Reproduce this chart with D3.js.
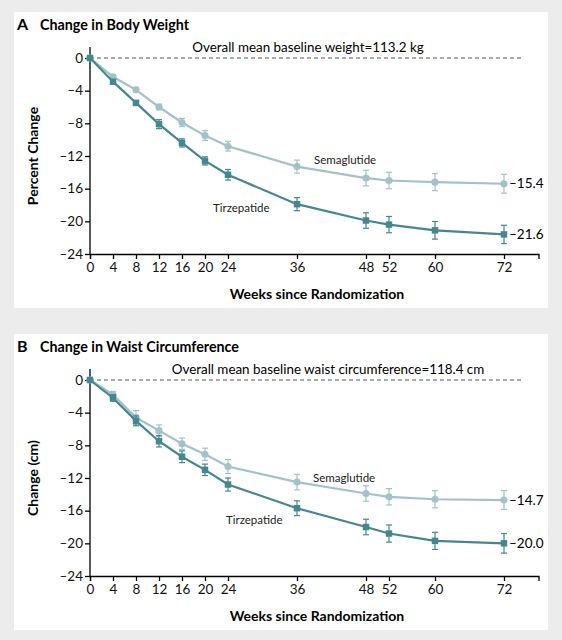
<!DOCTYPE html>
<html>
<head>
<meta charset="utf-8">
<script src="https://cdn.jsdelivr.net/npm/d3@7"></script>
<style>
  body { margin: 0; background: #ececec; }
  svg { display: block; font-family: Lato, "Open Sans", sans-serif; }
</style>
</head>
<body>
<script>
// weeks shared by both panels
const weeks = [0, 4, 8, 12, 16, 20, 24, 36, 48, 52, 60, 72];
const yTicks = [0, -4, -8, -12, -16, -20, -24];

// Panel A: percent change in body weight
const weightSema = [0, -2.3, -3.9, -6.0, -7.9, -9.5, -10.8, -13.3, -14.7, -15.0, -15.2, -15.4];
const weightSemaErr = [0, 0.25, 0.3, 0.35, 0.5, 0.6, 0.6, 0.8, 0.95, 1.0, 1.05, 1.15];
const weightTirz = [0, -2.9, -5.5, -8.1, -10.4, -12.6, -14.3, -17.9, -19.9, -20.4, -21.1, -21.6];
const weightTirzErr = [0, 0.25, 0.3, 0.55, 0.5, 0.5, 0.65, 0.8, 0.95, 1.0, 1.08, 1.12];

// Panel B: change in waist circumference (cm)
const waistSema = [0, -1.8, -4.6, -6.2, -7.8, -9.1, -10.6, -12.5, -13.9, -14.3, -14.6, -14.7];
const waistSemaErr = [0, 0.4, 0.85, 0.7, 0.7, 0.75, 0.85, 0.95, 0.95, 1.0, 1.05, 1.15];
const waistTirz = [0, -2.2, -5.0, -7.5, -9.4, -11.0, -12.8, -15.7, -18.0, -18.8, -19.7, -20.0];
const waistTirzErr = [0, 0.4, 0.6, 0.7, 0.72, 0.7, 0.8, 0.9, 0.95, 1.05, 1.05, 1.2];

const semaColor = "#a3c2c8";
const tirzColor = "#45878f";

const dash = (d) => (d < 0 ? "\u2013" + Math.abs(d) : String(d));

const svg = d3.select("body").append("svg")
  .attr("width", 562)
  .attr("height", 640);

const drawPanel = (opt) => {
  const top = opt.top;
  svg.append("rect")
    .attr("x", 14).attr("y", top)
    .attr("width", 534).attr("height", 296)
    .attr("fill", "#fff");

  const g = svg.append("g");

  g.append("text")
    .attr("x", 17).attr("y", top + 18)
    .attr("font-size", 16).attr("font-weight", "bold")
    .text(opt.letter);
  g.append("text")
    .attr("x", 40).attr("y", top + 18)
    .attr("font-size", 15).attr("font-weight", "bold")
    .attr("textLength", opt.titleLen)
    .attr("lengthAdjust", "spacingAndGlyphs")
    .text(opt.title);

  const x = d3.scaleLinear().domain([0, 78]).range([90, 538.5]);
  const y = d3.scaleLinear().domain([-24, 0]).range([top + 242, top + 46]);

  // dashed baseline
  g.append("line")
    .attr("x1", x(0)).attr("x2", 523)
    .attr("y1", y(0)).attr("y2", y(0))
    .attr("stroke", "#555").attr("stroke-width", 1)
    .attr("stroke-dasharray", "4,3");
  g.append("text")
    .attr("x", opt.noteX).attr("y", y(0) - 6)
    .attr("text-anchor", "middle")
    .attr("font-size", 13.4)
    .text(opt.note);

  // axes
  const xAxis = g.append("g")
    .attr("transform", "translate(0," + y(-24) + ")")
    .call(d3.axisBottom(x).tickValues(weeks).tickSizeOuter(0).tickSize(5).tickPadding(3));
  const yAxis = g.append("g")
    .attr("transform", "translate(" + x(0) + ",0)")
    .call(d3.axisLeft(y).tickValues(yTicks).tickFormat(dash).tickSizeOuter(0).tickSize(5).tickPadding(2));
  yAxis.select(".domain").remove();
  yAxis.append("line")
    .attr("y1", y(0) - 11).attr("y2", y(-24))
    .attr("stroke", "#000").attr("stroke-width", 1.3);
  [xAxis, yAxis].forEach((a) => {
    a.selectAll("text").attr("font-size", 13.5).attr("fill", "#111")
      .attr("font-family", "Lato, sans-serif");
    a.selectAll(".domain, line").attr("stroke-width", 1.3);
  });

  g.append("text")
    .attr("x", 317).attr("y", y(-24) + 45)
    .attr("text-anchor", "middle")
    .attr("font-size", 14).attr("font-weight", "bold")
    .text("Weeks since Randomization");
  g.append("text")
    .attr("transform", "translate(38," + (y(-12)) + ") rotate(-90)")
    .attr("text-anchor", "middle")
    .attr("font-size", 14).attr("font-weight", "bold")
    .text(opt.yLabel);

  const line = d3.line().x((d) => x(d.w)).y((d) => y(d.v));

  const series = [
    { vals: opt.sema, err: opt.semaErr, color: semaColor, shape: "circle" },
    { vals: opt.tirz, err: opt.tirzErr, color: tirzColor, shape: "square" }
  ];

  series.forEach((s) => {
    const pts = weeks.map((w, i) => ({ w: w, v: s.vals[i], e: s.err[i] }));
    const sg = g.append("g");
    sg.append("path")
      .datum(pts)
      .attr("fill", "none")
      .attr("stroke", s.color)
      .attr("stroke-width", 2.2)
      .attr("d", line);

    const bars = sg.selectAll(".err")
      .data(pts.filter((d) => d.e > 0))
      .enter().append("g")
      .attr("stroke", s.color)
      .attr("stroke-width", 1.2);
    bars.append("line")
      .attr("x1", (d) => x(d.w)).attr("x2", (d) => x(d.w))
      .attr("y1", (d) => y(d.v + d.e)).attr("y2", (d) => y(d.v - d.e));
    bars.append("line")
      .attr("x1", (d) => x(d.w) - 3).attr("x2", (d) => x(d.w) + 3)
      .attr("y1", (d) => y(d.v + d.e)).attr("y2", (d) => y(d.v + d.e));
    bars.append("line")
      .attr("x1", (d) => x(d.w) - 3).attr("x2", (d) => x(d.w) + 3)
      .attr("y1", (d) => y(d.v - d.e)).attr("y2", (d) => y(d.v - d.e));

    const sym = d3.symbol()
      .type(s.shape === "circle" ? d3.symbolCircle : d3.symbolSquare)
      .size(s.shape === "circle" ? 40 : 42);
    sg.selectAll(".pt")
      .data(pts)
      .enter().append("path")
      .attr("transform", (d) => "translate(" + x(d.w) + "," + y(d.v) + ")")
      .attr("d", sym)
      .attr("fill", s.color);

    const last = pts[pts.length - 1];
    g.append("text")
      .attr("x", x(last.w) + 5).attr("y", y(last.v))
      .attr("dy", "0.35em")
      .attr("font-size", 13.5)
      .text("\u2013" + Math.abs(last.v).toFixed(1));
  });

  g.append("text")
    .attr("x", opt.semaLabel[0]).attr("y", opt.semaLabel[1])
    .attr("font-size", 11.5).attr("fill", "#222")
    .text("Semaglutide");
  g.append("text")
    .attr("x", opt.tirzLabel[0]).attr("y", opt.tirzLabel[1])
    .attr("font-size", 11.5).attr("fill", "#222")
    .text("Tirzepatide");
};

drawPanel({
  top: 12,
  letter: "A",
  title: "Change in Body Weight",
  titleLen: 149,
  note: "Overall mean baseline weight=113.2 kg",
  noteX: 308,
  yLabel: "Percent Change",
  sema: weightSema, semaErr: weightSemaErr,
  tirz: weightTirz, tirzErr: weightTirzErr,
  semaLabel: [314, 164],
  tirzLabel: [213, 212]
});

drawPanel({
  top: 334,
  letter: "B",
  title: "Change in Waist Circumference",
  titleLen: 199,
  note: "Overall mean baseline waist circumference=118.4 cm",
  noteX: 328,
  yLabel: "Change (cm)",
  sema: waistSema, semaErr: waistSemaErr,
  tirz: waistTirz, tirzErr: waistTirzErr,
  semaLabel: [313, 482],
  tirzLabel: [226, 524]
});
</script>
</body>
</html>
